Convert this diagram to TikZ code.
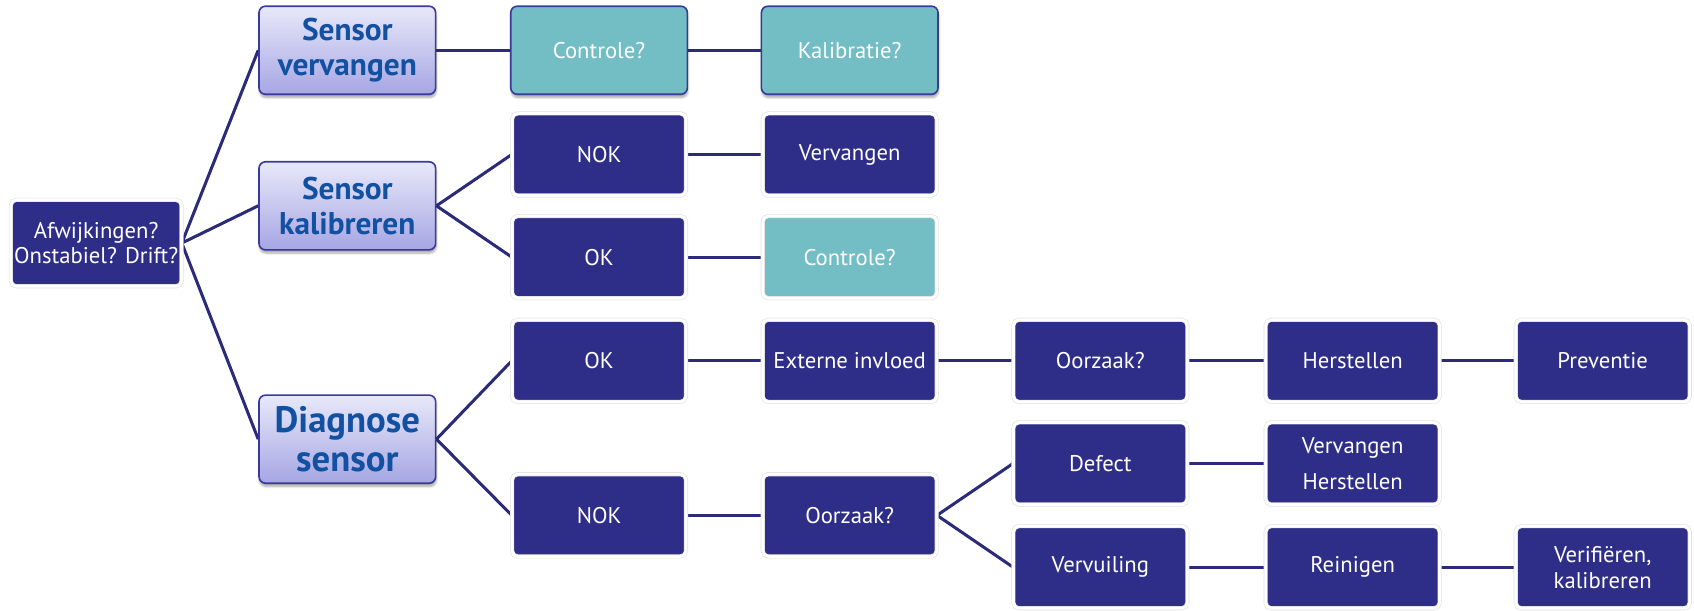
\documentclass[tikz,border=0pt]{standalone}
\usepackage{fontspec}
\setmainfont{PT Sans}
\usetikzlibrary{shadows.blur,backgrounds}
\definecolor{navy}{RGB}{46,46,136}
\definecolor{tealfill}{RGB}{114,190,196}
\definecolor{wire}{RGB}{43,43,122}
\definecolor{headblue}{RGB}{18,80,162}
\definecolor{lavtop}{RGB}{232,232,250}
\definecolor{lavbot}{RGB}{166,166,228}
\definecolor{frame}{RGB}{58,58,156}

\begin{document}
\begin{tikzpicture}[x=1pt,y=-1pt,
  box/.style={rectangle, rounded corners=5pt, minimum width=161pt, minimum height=76pt,
    inner sep=2pt, draw=black!12, line width=0.6pt, double=white, double distance=2.6pt,
    text=white, align=center, font=\fontsize{21}{24}\selectfont},
  darkbox/.style={box, fill=navy},
  tealbox/.style={box, fill=tealfill},
  raised/.style={rectangle, rounded corners=6pt, minimum width=163.5pt, minimum height=81.5pt,
    inner sep=2pt, draw=frame, line width=1.5pt, align=center,
    blur shadow={shadow xshift=0.5pt, shadow yshift=-3pt, shadow blur steps=6, shadow opacity=35}},
  headbox/.style={raised, top color=lavtop, bottom color=lavbot, text=headblue,
    font=\fontsize{29}{32}\selectfont\bfseries},
  askbox/.style={raised, fill=tealfill, text=white, font=\fontsize{21}{24}\selectfont},
  link/.style={draw=wire, line width=2.8pt}
]
\useasboundingbox (0,0) rectangle (1568,565);

% root question
\node[darkbox, minimum width=158pt, minimum height=80pt] (root) at (89,225) {Afwijkingen?\\Onstabiel? Drift?};

% first level: the three routes
\node[headbox] (a1) at (321.5,46.5) {Sensor\\vervangen};
\node[headbox] (a2) at (321.5,190.5) {Sensor\\kalibreren};
\node[headbox, font=\fontsize{34}{36}\selectfont\bfseries] (a3) at (321.5,406.5) {Diagnose\\sensor};

% second level
\node[askbox] (b1) at (554.5,46.5) {Controle?};
\node[darkbox] (b2) at (554.5,143) {NOK};
\node[darkbox] (b3) at (554.5,238) {OK};
\node[darkbox] (b4) at (554.5,334) {OK};
\node[darkbox] (b5) at (554.5,477) {NOK};

% third level
\node[askbox] (c1) at (786.5,46.5) {Kalibratie?};
\node[darkbox] (c2) at (786.5,143) {Vervangen};
\node[tealbox] (c3) at (786.5,238) {Controle?};
\node[darkbox] (c4) at (786.5,334) {Externe invloed};
\node[darkbox] (c5) at (786.5,477) {Oorzaak?};

% fourth level
\node[darkbox] (d4) at (1018.5,334) {Oorzaak?};
\node[darkbox] (d5) at (1018.5,429) {Defect};
\node[darkbox] (d6) at (1018.5,525) {Vervuiling};

% fifth level
\node[darkbox] (e4) at (1252,334) {Herstellen};
\node[darkbox, font=\fontsize{21}{33}\selectfont] (e5) at (1252,429) {Vervangen\\Herstellen};
\node[darkbox] (e6) at (1252,525) {Reinigen};

% sixth level
\node[darkbox] (f4) at (1483.5,334) {Preventie};
\node[darkbox] (f6) at (1483.5,525) {Verifiëren,\\kalibreren};

% connectors
\begin{pgfonlayer}{background}
  \draw[link] (root.east) -- (a1.west);
  \draw[link] (root.east) -- (a2.west);
  \draw[link] (root.east) -- (a3.west);
  \draw[link] (a1.east) -- (b1.west);
  \draw[link] (b1.east) -- (c1.west);
  \draw[link] (a2.east) -- (b2.west);
  \draw[link] (a2.east) -- (b3.west);
  \draw[link] (b2.east) -- (c2.west);
  \draw[link] (b3.east) -- (c3.west);
  \draw[link] (a3.east) -- (b4.west);
  \draw[link] (a3.east) -- (b5.west);
  \draw[link] (b4.east) -- (c4.west);
  \draw[link] (c4.east) -- (d4.west);
  \draw[link] (d4.east) -- (e4.west);
  \draw[link] (e4.east) -- (f4.west);
  \draw[link] (b5.east) -- (c5.west);
  \draw[link] (c5.east) -- (d5.west);
  \draw[link] (c5.east) -- (d6.west);
  \draw[link] (d5.east) -- (e5.west);
  \draw[link] (d6.east) -- (e6.west);
  \draw[link] (e6.east) -- (f6.west);
\end{pgfonlayer}
\end{tikzpicture}
\end{document}
